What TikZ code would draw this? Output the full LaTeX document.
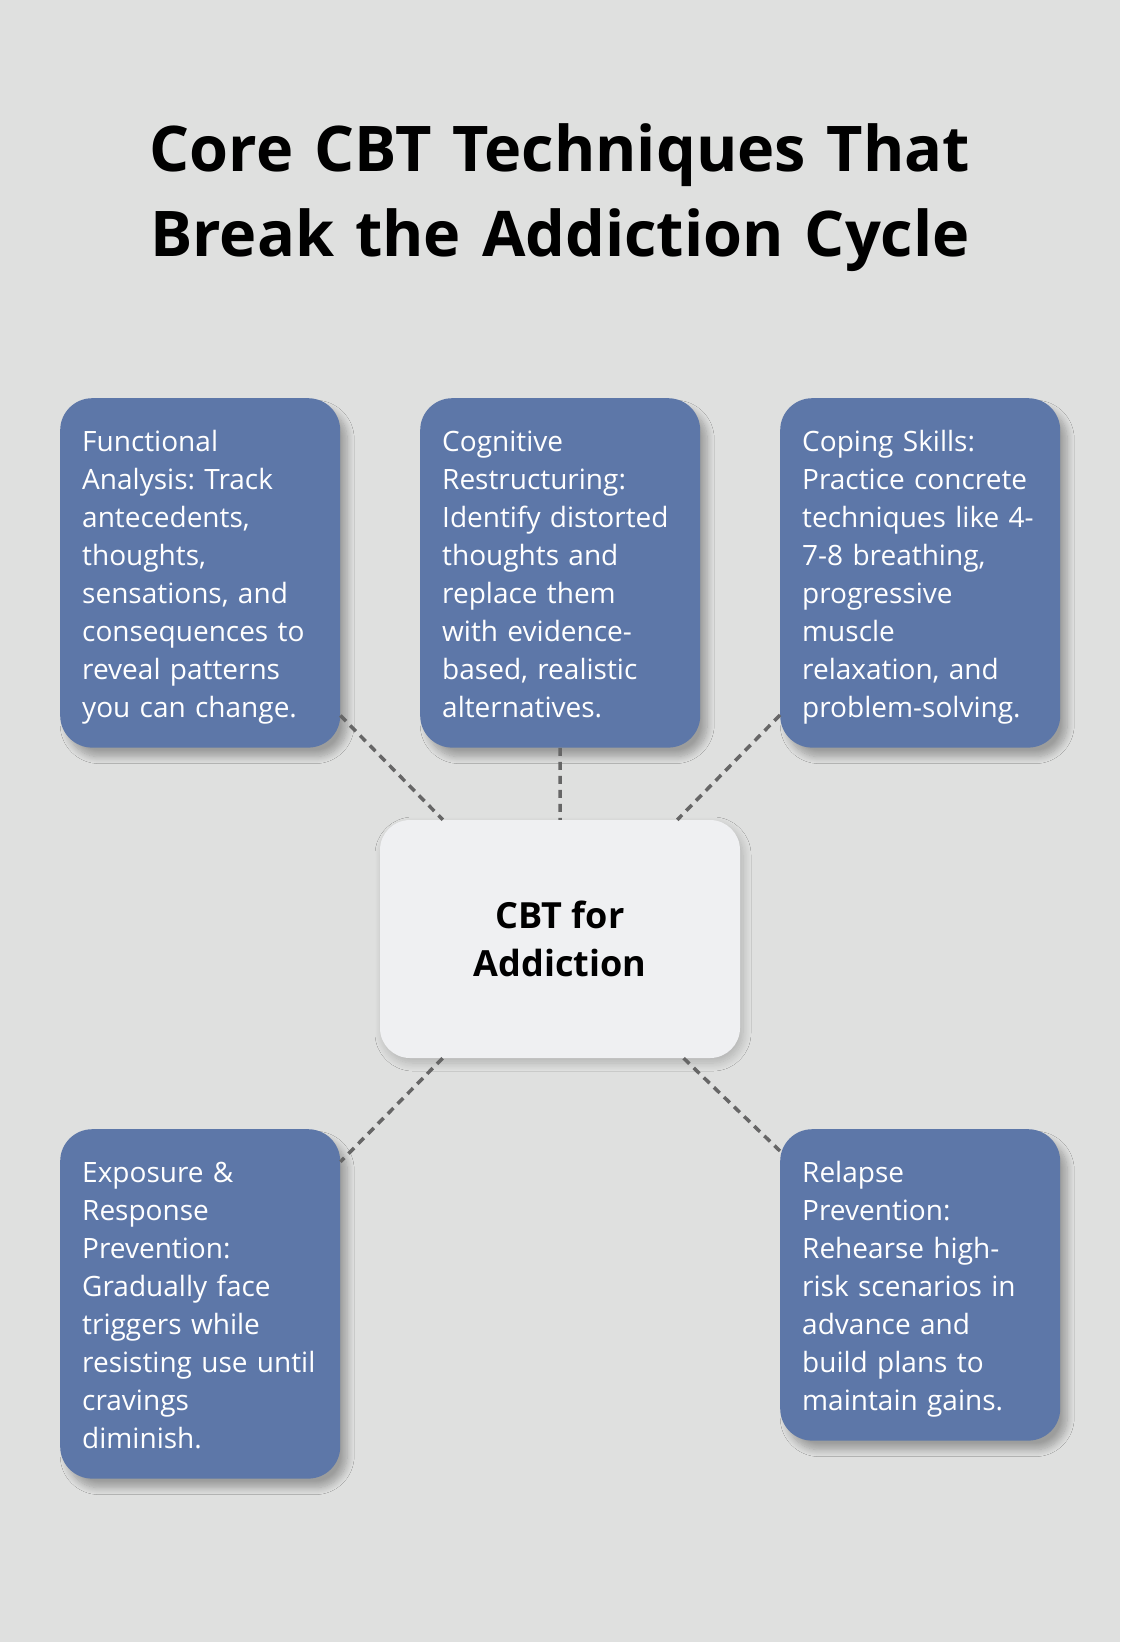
\documentclass[tikz,border=0pt]{standalone}
\usepackage{fontspec}
\setmainfont{Open Sans}
\usetikzlibrary{shadows.blur}
\definecolor{bgcol}{HTML}{DFE0DF}
\definecolor{boxcol}{HTML}{5D77A8}
\definecolor{hubcol}{HTML}{EFF0F2}
\definecolor{linkcol}{HTML}{666666}

\begin{document}
\frenchspacing
\begin{tikzpicture}[x=1pt,y=-1pt,
  technique/.style={rounded corners=32pt, fill=boxcol, text=white, anchor=north west,
    text width=236pt, inner xsep=22pt, inner ysep=19pt, text height=34pt, align=left,
    font=\fontsize{28}{38}\selectfont,
    blur shadow={shadow xshift=7pt, shadow yshift=-9pt, shadow blur radius=7pt,
      shadow blur steps=10, shadow opacity=30}},
  hub/.style={rounded corners=30pt, fill=hubcol, minimum width=360pt, minimum height=238pt,
    align=center, font=\fontsize{36}{48}\selectfont\bfseries,
    blur shadow={shadow xshift=3pt, shadow yshift=-5pt, shadow blur radius=8pt,
      shadow blur steps=10, shadow opacity=20}},
  link/.style={draw=linkcol, line width=3.5pt, dash pattern=on 8pt off 6pt}]

\fill[bgcol] (0,0) rectangle (1120,1642);

\node (title) [font=\fontsize{63}{85}\selectfont\bfseries, text width=1000pt, align=center,
  anchor=north, text height=48pt, inner sep=0pt] at (560,123) {Core CBT Techniques That\\Break the Addiction Cycle};

\node (fa) [technique] at (60,398) {Functional\\Analysis: Track\\antecedents,\\thoughts,\\sensations, and\\consequences to\\reveal patterns\\you can change.\strut};
\node (cr) [technique] at (420,398) {Cognitive\\Restructuring:\\Identify distorted\\thoughts and\\replace them\\with evidence-\\based, realistic\\alternatives.\strut};
\node (cs) [technique] at (780,398) {Coping Skills:\\Practice concrete\\techniques like 4-\\7-8 breathing,\\progressive\\muscle\\relaxation, and\\problem-solving.\strut};

\node (hub) [hub] at (560,939) {CBT for\\Addiction};

\node (erp) [technique] at (60,1129) {Exposure \&\\Response\\Prevention:\\Gradually face\\triggers while\\resisting use until\\cravings\\diminish.\strut};
\node (rp) [technique] at (780,1129) {Relapse\\Prevention:\\Rehearse high-\\risk scenarios in\\advance and\\build plans to\\maintain gains.\strut};

\draw[link] (fa) -- (hub);
\draw[link] (cr) -- (hub);
\draw[link] (cs) -- (hub);
\draw[link] (hub) -- (erp);
\draw[link] (hub) -- (rp);
\end{tikzpicture}
\end{document}
